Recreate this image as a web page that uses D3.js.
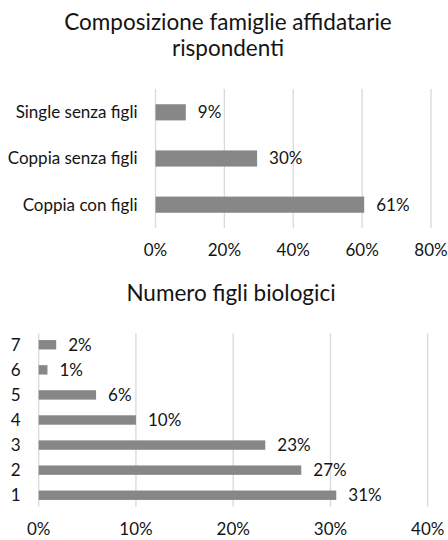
<!doctype html>
<html>
<head>
<meta charset="UTF-8">
<script src="https://d3js.org/d3.v7.min.js"></script>
<style>
	body { margin: 0; background: #fff; }
	svg { display: block; font-family: Lato, "Open Sans", sans-serif; }
	.grid line { stroke: #d9d9d9; stroke-width: 1.3; }
	.lab { fill: #141414; }
</style>
</head>
<body>
<svg id="chart" width="448" height="540"></svg>
<script>
	// top chart data
	let famCategories = ["Single senza figli", "Coppia senza figli", "Coppia con figli"];
	let famValues = [8.8, 29.5, 60.6];
	let famTicks = [0, 20, 40, 60, 80];

	// bottom chart data
	let figliCategories = ["7", "6", "5", "4", "3", "2", "1"];
	let figliValues = [1.8, 0.9, 5.9, 10, 23.3, 27, 30.6];
	let figliTicks = [0, 10, 20, 30, 40];

	let svg = d3.select("#chart");

	function drawPanel(opt) {
		let g = svg.append("g");

		let xSca = d3.scaleLinear()
					 .domain([0, opt.ticks[opt.ticks.length - 1]])
					 .range([opt.left, opt.right]);

		let ySca = d3.scaleBand()
					 .domain(opt.cats)
					 .range([opt.top, opt.bottom])
					 .paddingInner(opt.padIn)
					 .paddingOuter(opt.padOut);

		// title lines
		g.selectAll(".title")
		   .data(opt.title)
		 .enter().append("text")
		   .attr("class", "lab")
		   .attr("x", opt.titleX)
		   .attr("y", (d, i) => opt.titleY + i * 26)
		   .attr("text-anchor", "middle")
		   .style("font-size", "22.5px")
		   .text(d => d);

		// vertical gridlines
		g.append("g")
		   .attr("class", "grid")
		   .selectAll("line")
		   .data(opt.ticks)
		 .enter().append("line")
		   .attr("x1", d => xSca(d))
		   .attr("x2", d => xSca(d))
		   .attr("y1", opt.top)
		   .attr("y2", opt.bottom);

		// x tick labels
		g.selectAll(".tick-lab")
		   .data(opt.ticks)
		 .enter().append("text")
		   .attr("class", "lab")
		   .attr("x", d => xSca(d))
		   .attr("y", opt.tickY)
		   .attr("dy", "0.35em")
		   .attr("text-anchor", "middle")
		   .style("font-size", "17px")
		   .text(d => d + "%");

		// category labels
		g.selectAll(".cat")
		   .data(opt.cats)
		 .enter().append("text")
		   .attr("class", "lab")
		   .attr("x", opt.left - 18)
		   .attr("y", d => ySca(d) + ySca.bandwidth() / 2)
		   .attr("dy", "0.35em")
		   .attr("text-anchor", "end")
		   .style("font-size", "17px")
		   .text(d => d);

		// bars
		g.selectAll(".bar")
		   .data(opt.cats)
		 .enter().append("rect")
		   .attr("x", xSca(0))
		   .attr("y", d => ySca(d))
		   .attr("width", (d, i) => xSca(opt.values[i]) - xSca(0))
		   .attr("height", ySca.bandwidth())
		   .attr("fill", "#878787");

		// value labels
		g.selectAll(".val")
		   .data(opt.cats)
		 .enter().append("text")
		   .attr("class", "lab")
		   .attr("x", (d, i) => xSca(opt.values[i]) + 12)
		   .attr("y", d => ySca(d) + ySca.bandwidth() / 2)
		   .attr("dy", "0.35em")
		   .style("font-size", "17px")
		   .text((d, i) => Math.round(opt.values[i]) + "%");
	}

	drawPanel({
		cats: famCategories, values: famValues, ticks: famTicks,
		title: ["Composizione famiglie affidatarie", "rispondenti"],
		titleX: 228, titleY: 29.5,
		left: 155.5, right: 431, top: 89, bottom: 228,
		padIn: 0.65, padOut: 0.33, tickY: 250
	});

	drawPanel({
		cats: figliCategories, values: figliValues, ticks: figliTicks,
		title: ["Numero figli biologici"],
		titleX: 231, titleY: 301,
		left: 38.7, right: 427.7, top: 333.3, bottom: 506.7,
		padIn: 0.625, padOut: 0.27, tickY: 529.5
	});
</script>
</body>
</html>
